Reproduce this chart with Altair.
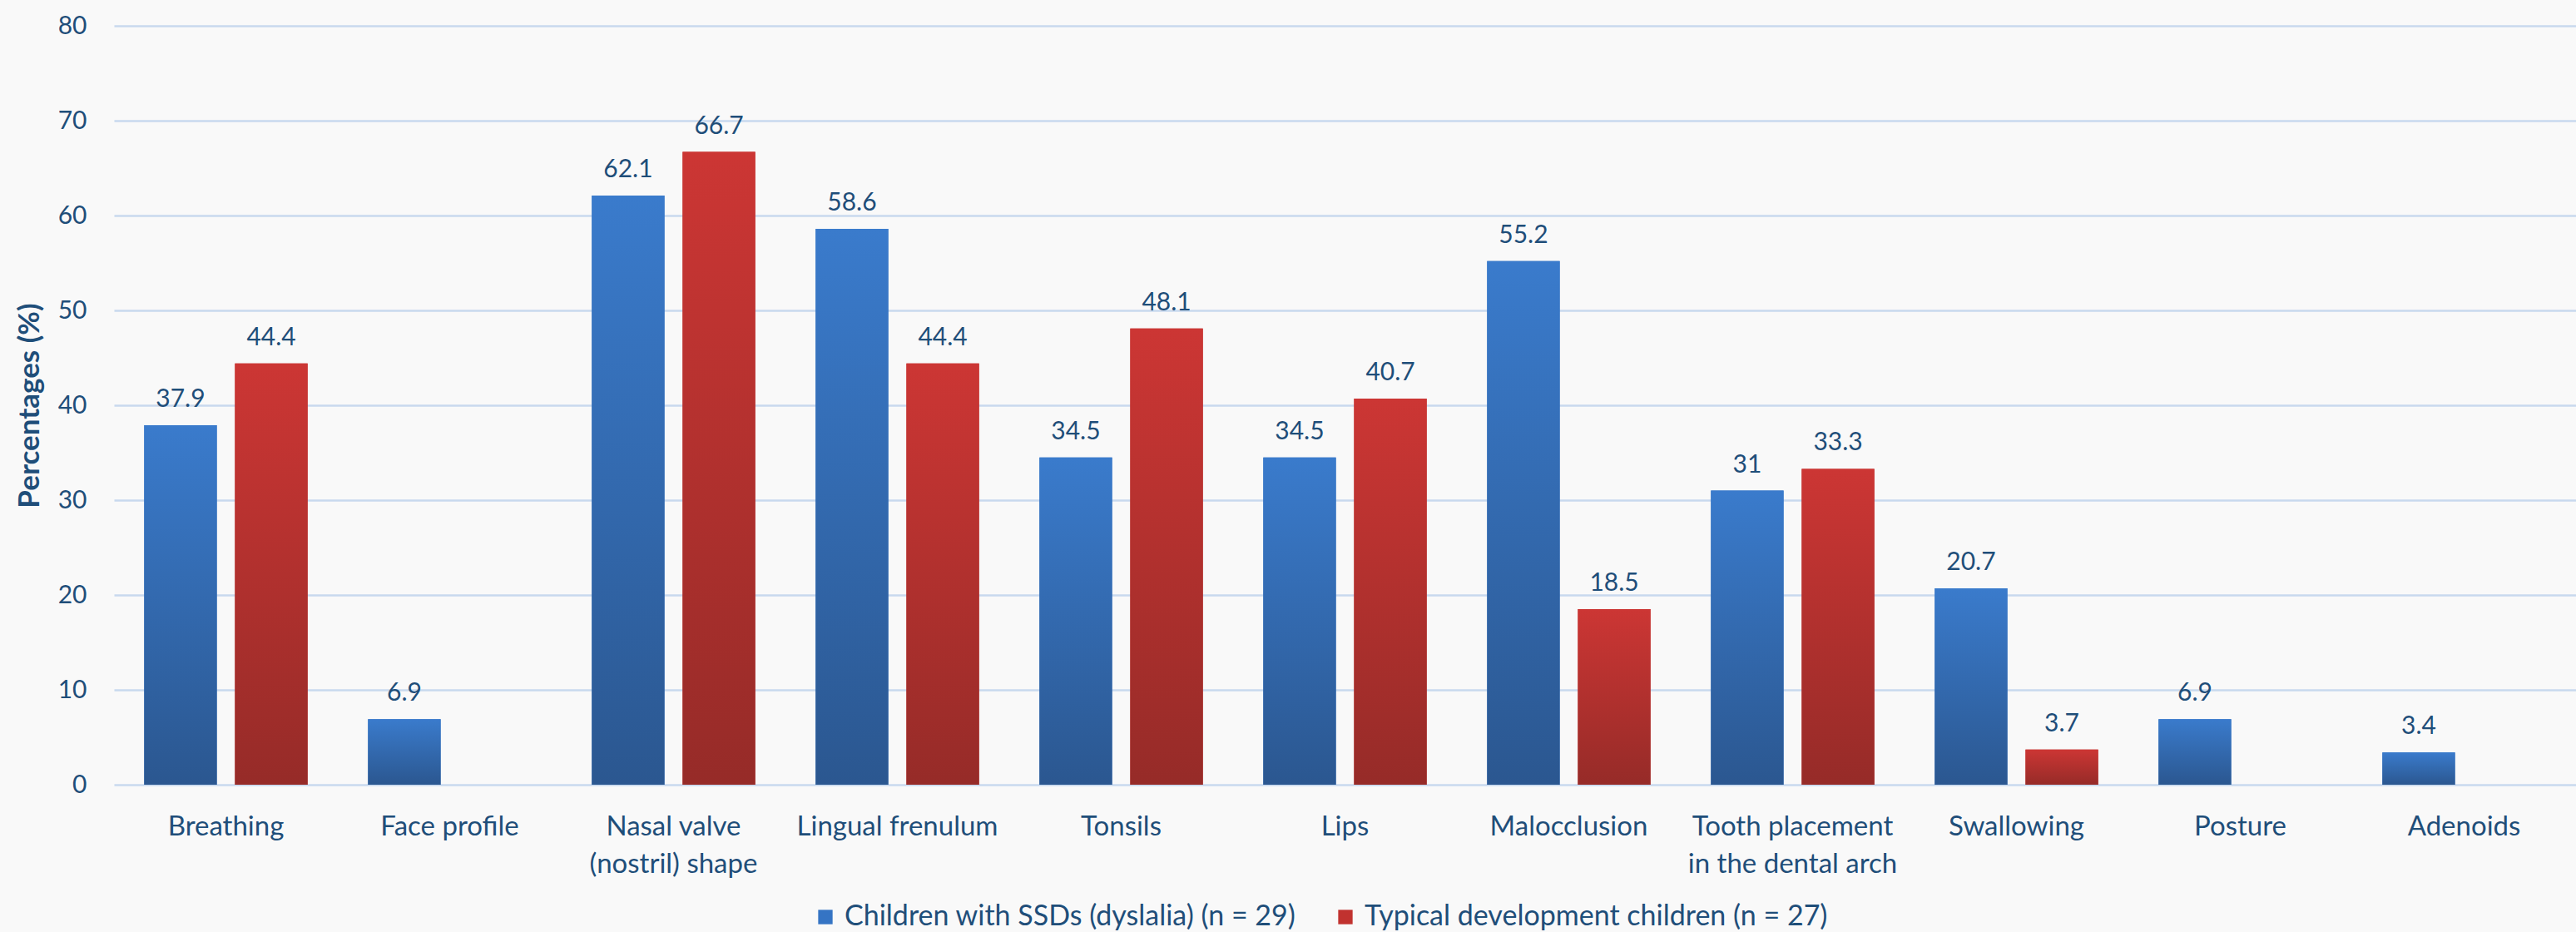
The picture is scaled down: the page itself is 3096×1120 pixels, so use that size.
import altair as alt
import pandas as pd

categories = [
    "Breathing", "Face profile", "Nasal valve|(nostril) shape", "Lingual frenulum",
    "Tonsils", "Lips", "Malocclusion", "Tooth placement|in the dental arch",
    "Swallowing", "Posture", "Adenoids",
]
ssd_values = [37.9, 6.9, 62.1, 58.6, 34.5, 34.5, 55.2, 31, 20.7, 6.9, 3.4]
td_values = [44.4, None, 66.7, 44.4, 48.1, 40.7, 18.5, 33.3, 3.7, None, None]
series = ["Children with SSDs (dyslalia) (n = 29)", "Typical development children (n = 27)"]
y_ticks = [0, 10, 20, 30, 40, 50, 60, 70, 80]

rows = []
for c, a, b in zip(categories, ssd_values, td_values):
    for s, v in zip(series, (a, b)):
        if v is not None:
            rows.append({"category": c, "series": s, "value": v, "label": f"{v:g}"})
df = pd.DataFrame(rows)

TEXT = "#1f4e79"
FONT = "Lato"

grad_blue = {
    "gradient": "linear", "x1": 0, "y1": 0, "x2": 0, "y2": 1,
    "stops": [{"offset": 0, "color": "#3a7bcc"}, {"offset": 1, "color": "#2b5790"}],
}
grad_red = {
    "gradient": "linear", "x1": 0, "y1": 0, "x2": 0, "y2": 1,
    "stops": [{"offset": 0, "color": "#cc3634"}, {"offset": 1, "color": "#962b28"}],
}

x_enc = alt.X(
    "category:N", sort=categories,
    scale=alt.Scale(paddingInner=0.27, paddingOuter=0.135),
    axis=alt.Axis(title=None, labelExpr="split(datum.label, '|')", labelAngle=0,
                  labelPadding=34, labelLineHeight=45, labelFontSize=33, labelLimit=0,
                  labelColor=TEXT, labelFont=FONT, grid=False, domain=False, ticks=False),
)
xoff_enc = alt.XOffset("series:N", sort=series,
                       scale=alt.Scale(domain=series, paddingInner=0.2, paddingOuter=0))
y_enc = alt.Y(
    "value:Q", scale=alt.Scale(domain=[0, 80], nice=False),
    axis=alt.Axis(values=y_ticks, title="Percentages (%)", titleFontSize=35,
                  titleFontWeight="bold", titleColor=TEXT, titleFont=FONT, titlePadding=16,
                  labelFontSize=30, labelColor=TEXT, labelFont=FONT, labelPadding=33,
                  domain=False, ticks=False, grid=True, gridColor="#c8d9ee", gridWidth=2.5),
)

base = alt.Chart(df).encode(x=x_enc, xOffset=xoff_enc, y=y_enc)

legend_bars = base.mark_bar().encode(
    color=alt.Color(
        "series:N", sort=series,
        scale=alt.Scale(domain=series, range=["#3574c4", "#c1322f"]),
        legend=alt.Legend(title=None, orient="none", direction="horizontal",
                          legendX=838, legendY=1054, labelFontSize=34, labelColor=TEXT,
                          labelFont=FONT, labelLimit=0, symbolType="square", symbolSize=300,
                          symbolStrokeWidth=0, labelOffset=6, columnPadding=42),
    )
)
blue_bars = base.transform_filter(alt.datum.series == series[0]).mark_bar(fill=grad_blue)
red_bars = base.transform_filter(alt.datum.series == series[1]).mark_bar(fill=grad_red)
labels = base.mark_text(baseline="alphabetic", dy=-22, fontSize=30, color=TEXT, font=FONT).encode(
    text="label:N")

chart = alt.layer(legend_bars, blue_bars, red_bars, labels).properties(
    width=2959, height=912,
    autosize=alt.AutoSizeParams(type="none"),
    padding={"left": 137, "top": 31, "right": 0, "bottom": 177},
    background="#f9f9f9",
).configure_view(stroke=None)

chart.save("out.html", embed_options={"renderer": "svg", "actions": False})
